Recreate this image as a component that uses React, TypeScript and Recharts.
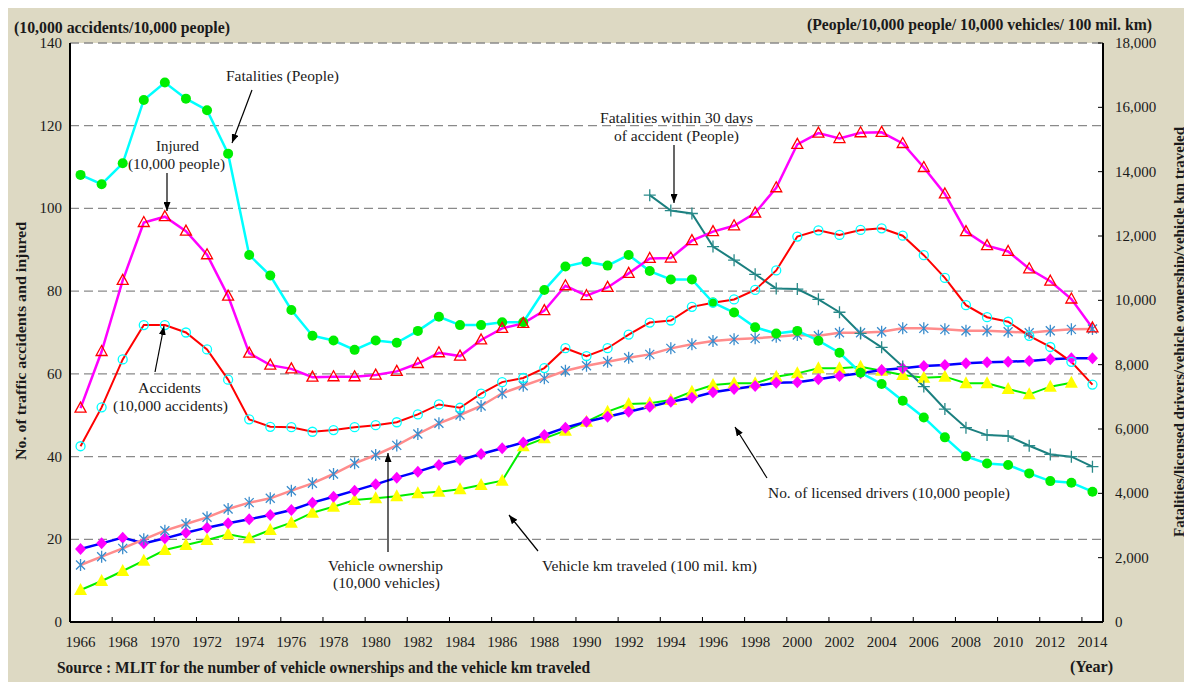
import React from 'react';
import { LineChart, Line, XAxis, YAxis, CartesianGrid } from 'recharts';

const years = [
  1966, 1967, 1968, 1969, 1970, 1971, 1972, 1973, 1974, 1975,
  1976, 1977, 1978, 1979, 1980, 1981, 1982, 1983, 1984, 1985,
  1986, 1987, 1988, 1989, 1990, 1991, 1992, 1993, 1994, 1995,
  1996, 1997, 1998, 1999, 2000, 2001, 2002, 2003, 2004, 2005,
  2006, 2007, 2008, 2009, 2010, 2011, 2012, 2013, 2014,
];

// left axis (10,000)
const injured = [
  51.7, 65.4, 82.6, 96.6, 98.0, 94.5, 88.8, 78.8, 65.0, 62.1,
  61.2, 59.2, 59.3, 59.3, 59.7, 60.6, 62.5, 65.1, 64.3, 68.2,
  71.0, 72.2, 75.3, 81.3, 78.9, 80.9, 84.3, 87.9, 88.0, 92.2,
  94.4, 95.8, 98.9, 105.0, 115.5, 118.2, 116.9, 118.3, 118.4, 115.7,
  109.9, 103.5, 94.4, 91.0, 89.6, 85.4, 82.4, 78.1, 71.1,
];
const accidents = [
  42.5, 51.9, 63.5, 71.8, 71.8, 70.0, 65.9, 58.6, 49.0, 47.2,
  47.1, 46.0, 46.4, 47.1, 47.6, 48.3, 50.2, 52.6, 51.8, 55.2,
  58.0, 59.0, 61.4, 66.2, 64.3, 66.2, 69.5, 72.4, 72.9, 76.2,
  77.2, 78.0, 80.3, 85.0, 93.2, 94.7, 93.6, 94.8, 95.2, 93.4,
  88.7, 83.2, 76.6, 73.7, 72.6, 69.2, 66.5, 62.9, 57.4,
];

// right axis
const fatalities = [
  13900, 13610, 14260, 16230, 16770, 16270, 15910, 14560, 11410, 10770,
  9700, 8900, 8750, 8460, 8750, 8680, 9050, 9490, 9230, 9230,
  9320, 9320, 10320, 11050, 11200, 11080, 11410, 10910, 10650, 10650,
  9930, 9620, 9160, 8970, 9050, 8745, 8370, 7750, 7400, 6880,
  6360, 5740, 5150, 4930, 4880, 4620, 4380, 4330, 4050,
];
const fatalities30 = [
  null, null, null, null, null, null, null, null, null, null,
  null, null, null, null, null, null, null, null, null, null,
  null, null, null, null, null, null, null, 13270, 12790, 12700,
  11670, 11250, 10810, 10370, 10350, 10030, 9630, 8970, 8540, 7940,
  7320, 6620, 6040, 5810, 5780, 5480, 5210, 5140, 4830,
];
const ownership = [
  1772, 2030, 2290, 2570, 2839, 3047, 3254, 3513, 3710, 3845,
  4082, 4311, 4601, 4933, 5192, 5490, 5845, 6177, 6435, 6715,
  7110, 7346, 7575, 7812, 7968, 8092, 8216, 8320, 8507, 8632,
  8735, 8787, 8818, 8870, 8922, 8901, 8994, 8994, 9025, 9129,
  9129, 9098, 9057, 9057, 9025, 8994, 9057, 9098, 9109,
];
const drivers = [
  2269, 2445, 2622, 2445, 2601, 2777, 2933, 3068, 3192, 3326,
  3482, 3710, 3896, 4083, 4280, 4487, 4674, 4881, 5036, 5223,
  5399, 5580, 5813, 6041, 6228, 6383, 6539, 6694, 6850, 6974,
  7140, 7243, 7337, 7440, 7451, 7544, 7648, 7731, 7834, 7886,
  7958, 7990, 8041, 8073, 8093, 8114, 8166, 8197, 8197,
];
const vehicleKm = [
  995, 1275, 1585, 1907, 2238, 2394, 2549, 2726, 2602, 2860,
  3088, 3399, 3585, 3793, 3845, 3906, 4000, 4052, 4125, 4259,
  4393, 5460, 5710, 5948, 6228, 6539, 6777, 6798, 6902, 7160,
  7368, 7420, 7420, 7627, 7730, 7886, 7886, 7937, 7813, 7679,
  7596, 7627, 7420, 7420, 7243, 7078, 7316, 7440, null,
];

const yearTicks = [
  1966, 1968, 1970, 1972, 1974, 1976, 1978, 1980, 1982, 1984, 1986, 1988, 1990,
  1992, 1994, 1996, 1998, 2000, 2002, 2004, 2006, 2008, 2010, 2012, 2014,
];
const leftTicks = [0, 20, 40, 60, 80, 100, 120, 140];
const rightTicks = [0, 2000, 4000, 6000, 8000, 10000, 12000, 14000, 16000, 18000];

const data = years.map((year, i) => ({
  year,
  injured: injured[i],
  accidents: accidents[i],
  fatalities: fatalities[i],
  fatalities30: fatalities30[i],
  ownership: ownership[i],
  drivers: drivers[i],
  vehicleKm: vehicleKm[i],
}));

const W = 1174;
const H = 676;
const BOX_W = 1184;
const PL = 62;
const PR = 1095;
const PB = 616;
const HALF_BAND = (PR - PL) / 49 / 2;
const FONT = '"Liberation Serif", "Times New Roman", serif';
const TXT = '#1a1a1a';

const empty = (p: any) => <g key={`e-${p.index}`} />;

const triangleOpen = (p: any) => {
  if (p.cy == null || p.value == null) return empty(p);
  const { cx, cy } = p;
  return (
    <path key={`t-${p.index}`} d={`M${cx},${cy - 6} L${cx + 5.5},${cy + 4} L${cx - 5.5},${cy + 4} Z`}
      fill="none" stroke="#ff0000" strokeWidth={1.3} />
  );
};
const circleOpen = (p: any) => {
  if (p.cy == null || p.value == null) return empty(p);
  return <circle key={`c-${p.index}`} cx={p.cx} cy={p.cy} r={4.5} fill="none" stroke="#00ffff" strokeWidth={1.3} />;
};
const circleFilled = (p: any) => {
  if (p.cy == null || p.value == null) return empty(p);
  return <circle key={`g-${p.index}`} cx={p.cx} cy={p.cy} r={5} fill="#00ee00" />;
};
const plus = (p: any) => {
  if (p.cy == null || p.value == null) return empty(p);
  const { cx, cy } = p;
  return (
    <path key={`p-${p.index}`} d={`M${cx - 6},${cy} L${cx + 6},${cy} M${cx},${cy - 6} L${cx},${cy + 6}`}
      stroke="#2a8a8a" strokeWidth={1.3} />
  );
};
const asterisk = (p: any) => {
  if (p.cy == null || p.value == null) return empty(p);
  const { cx, cy } = p;
  const s = 4.5;
  return (
    <path key={`a-${p.index}`}
      d={`M${cx - s},${cy - s} L${cx + s},${cy + s} M${cx - s},${cy + s} L${cx + s},${cy - s} M${cx},${cy - 6} L${cx},${cy + 6}`}
      stroke="#3a8ccc" strokeWidth={1.3} />
  );
};
const diamond = (p: any) => {
  if (p.cy == null || p.value == null) return empty(p);
  const { cx, cy } = p;
  return (
    <path key={`d-${p.index}`} d={`M${cx},${cy - 6} L${cx + 5.5},${cy} L${cx},${cy + 6} L${cx - 5.5},${cy} Z`}
      fill="#ff00ff" />
  );
};
const triangleFilled = (p: any) => {
  if (p.cy == null || p.value == null) return empty(p);
  const { cx, cy } = p;
  return (
    <path key={`y-${p.index}`} d={`M${cx},${cy - 7} L${cx + 6.5},${cy + 5} L${cx - 6.5},${cy + 5} Z`}
      fill="#ffff00" />
  );
};

const XTick = (props: any) => {
  const { x, payload } = props;
  return (
    <g>
      <line x1={x - HALF_BAND} x2={x - HALF_BAND} y1={PB} y2={PB - 5} stroke="#000" strokeWidth={1} />
      <text x={x} y={PB + 25} textAnchor="middle" fontSize={15} fontFamily={FONT} fill={TXT}>
        {payload.value}
      </text>
    </g>
  );
};

const LeftTick = (props: any) => {
  const { y, payload } = props;
  return (
    <text x={PL - 8} y={y} dy={5} textAnchor="end" fontSize={15} fontFamily={FONT} fill={TXT}>
      {payload.value}
    </text>
  );
};

const RightTick = (props: any) => {
  const { y, payload } = props;
  return (
    <g>
      <line x1={PR - 5} x2={PR} y1={y} y2={y} stroke="#000" strokeWidth={1} />
      <text x={PR + 12} y={y} dy={5} textAnchor="start" fontSize={15} fontFamily={FONT} fill={TXT}>
        {payload.value.toLocaleString('en-US')}
      </text>
    </g>
  );
};

// x is the left edge, len the measured width of the text in the reference
const Label = ({ x, y, len, children, bold, size = 15.5 }: any) => (
  <text x={x} y={y} textLength={len} lengthAdjust="spacingAndGlyphs" fontSize={size}
    fontFamily={FONT} fill={TXT} fontWeight={bold ? 'bold' : 'normal'}>
    {children}
  </text>
);

const Arrow = ({ x1, y1, x2, y2 }: any) => (
  <line x1={x1} y1={y1} x2={x2} y2={y2} stroke="#000" strokeWidth={1.2} markerEnd="url(#ah)" />
);

export default function App() {
  return (
    <div style={{ position: 'relative', width: BOX_W, height: H, background: '#ddd9c3', marginTop: -2 }}>
      <LineChart width={W} height={H} data={data} margin={{ top: 37, right: 9, bottom: 30, left: 12 }}>
        <CartesianGrid yAxisId="left" vertical={false} fill="#ffffff" stroke="#8a8a8a"
          strokeDasharray="9 5" strokeWidth={1.3} />
        <XAxis dataKey="year" type="number" domain={[1965.5, 2014.5]} ticks={yearTicks} interval={0}
          height={30} tick={<XTick />} tickLine={false} axisLine={{ stroke: '#000', strokeWidth: 2 }} />
        <YAxis yAxisId="left" domain={[0, 140]} ticks={leftTicks} width={50} tick={<LeftTick />}
          tickLine={false} axisLine={{ stroke: '#000', strokeWidth: 2 }} />
        <YAxis yAxisId="right" orientation="right" domain={[0, 18000]} ticks={rightTicks} width={70}
          tick={<RightTick />} tickLine={false} axisLine={{ stroke: '#000', strokeWidth: 2 }} />

        <Line yAxisId="right" dataKey="vehicleKm" stroke="#00ee00" strokeWidth={2} dot={triangleFilled}
          activeDot={false} isAnimationActive={false} />
        <Line yAxisId="right" dataKey="drivers" stroke="#0000ff" strokeWidth={2.5} dot={diamond}
          activeDot={false} isAnimationActive={false} />
        <Line yAxisId="right" dataKey="ownership" stroke="#ff8c8c" strokeWidth={2.5} dot={asterisk}
          activeDot={false} isAnimationActive={false} />
        <Line yAxisId="right" dataKey="fatalities30" stroke="#1a7f7f" strokeWidth={2} dot={plus}
          activeDot={false} isAnimationActive={false} />
        <Line yAxisId="right" dataKey="fatalities" stroke="#00ffff" strokeWidth={2.5} dot={circleFilled}
          activeDot={false} isAnimationActive={false} />
        <Line yAxisId="left" dataKey="accidents" stroke="#ff0000" strokeWidth={2} dot={circleOpen}
          activeDot={false} isAnimationActive={false} />
        <Line yAxisId="left" dataKey="injured" stroke="#ff00ff" strokeWidth={2.5} dot={triangleOpen}
          activeDot={false} isAnimationActive={false} />
      </LineChart>

      <svg width={BOX_W} height={H} style={{ position: 'absolute', left: 0, top: 0, pointerEvents: 'none' }}>
        <defs>
          <marker id="ah" viewBox="0 0 9 7" refX="9" refY="3.5" markerWidth="9" markerHeight="7"
            markerUnits="userSpaceOnUse" orient="auto">
            <path d="M0,0 L9,3.5 L0,7 Z" fill="#000" />
          </marker>
        </defs>
        <g transform="translate(-8,-6)">
          <Label x={14} y={32.5} len={216} bold size={16}>(10,000 accidents/10,000 people)</Label>
          <Label x={807} y={29.5} len={345} bold size={16}>(People/10,000 people/ 10,000 vehicles/ 100 mil. km)</Label>
          <Label x={57} y={673} len={533} bold size={16}>Source : MLIT for the number of vehicle ownerships and the vehicle km traveled</Label>
          <Label x={1070} y={672} len={43} bold size={16}>(Year)</Label>
          <g transform="translate(26,460) rotate(-90)">
            <Label x={0} y={0} len={238} bold size={15}>No. of traffic  accidents and injured</Label>
          </g>
          <g transform="translate(1184,537) rotate(-90)">
            <Label x={0} y={0} len={410} bold size={15}>Fatalities/licensed drivers/vehicle ownership/vehicle km traveled</Label>
          </g>

          <Label x={226} y={81} len={113}>Fatalities (People)</Label>
          <Arrow x1={252} y1={90} x2={232} y2={143} />

          <Label x={156} y={151} len={43}>Injured</Label>
          <Label x={128} y={169} len={97}>(10,000 people)</Label>
          <Arrow x1={167} y1={173} x2={167} y2={211} />

          <Label x={138} y={393} len={63}>Accidents</Label>
          <Label x={113} y={411} len={115}>(10,000 accidents)</Label>
          <Arrow x1={155} y1={372} x2={164} y2={326} />

          <Label x={600} y={123} len={153}>Fatalities within  30 days</Label>
          <Label x={614} y={141} len={125}>of accident (People)</Label>
          <Arrow x1={674} y1={145} x2={674} y2={203} />

          <Label x={768} y={498} len={242}>No. of licensed drivers (10,000 people)</Label>
          <Arrow x1={767} y1={478} x2={735} y2={427} />

          <Label x={328} y={571} len={115}>Vehicle ownership</Label>
          <Label x={333} y={588} len={107}>(10,000 vehicles)</Label>
          <Arrow x1={388} y1={552} x2={388} y2={453} />

          <Label x={542} y={571} len={215}>Vehicle km traveled (100 mil.  km)</Label>
          <Arrow x1={538} y1={551} x2={509} y2={515} />
        </g>
      </svg>
    </div>
  );
}
